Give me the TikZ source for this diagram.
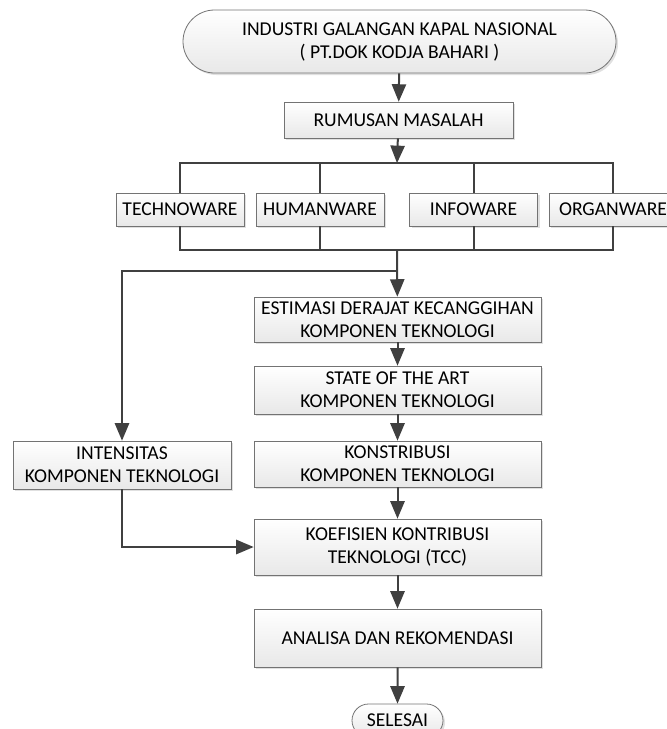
\documentclass[tikz,border=0pt]{standalone}
\usepackage{fontspec}
\setmainfont{Carlito}
\usepackage{tikz}
\usetikzlibrary{arrows,shapes.misc,shadows}
\tikzstyle{process}=[rectangle,draw=black!55,thin,top color=white,bottom color=black!9,
	drop shadow={shadow xshift=1pt,shadow yshift=-1pt,fill=black!12,opacity=1},
	align=center,inner sep=0pt,font=\fontsize{9.8}{11.5}\selectfont]
\tikzstyle{terminal}=[process,rounded rectangle]
\tikzstyle{flow} = [draw,line width=1pt,black!75,-triangle 45]
\tikzstyle{line} = [draw,line width=1pt,black!75]

\begin{document}
\begin{tikzpicture}[x=0.5pt,y=0.5pt]
				\useasboundingbox (0,0) rectangle (667,-729);
				% First we draw the boxes
				\node[terminal,minimum width=216.5pt,minimum height=31.5pt] (industri) at (399.5,-41.5)
					{INDUSTRI GALANGAN KAPAL NASIONAL\\( PT.DOK KODJA BAHARI )};
				\node[process,minimum width=114.5pt,minimum height=18pt] (rumusan) at (398.5,-120) {RUMUSAN MASALAH};

				\foreach \pos/\name/\text in {{(180,-209.5)/techno/TECHNOWARE}, {(320,-209.5)/human/HUMANWARE},
										{(473.5,-209.5)/info/INFOWARE}, {(613,-209.5)/organ/ORGANWARE}}
				\node[process,minimum width=64pt,minimum height=16.5pt] (\name) at \pos {\text};

				\node[process,minimum width=143.5pt,minimum height=22.5pt] (estimasi) at (397.5,-319.5)
					{ESTIMASI DERAJAT KECANGGIHAN\\KOMPONEN TEKNOLOGI};
				\node[process,minimum width=143.5pt,minimum height=24pt] (state) at (397.5,-390)
					{STATE OF THE ART\\KOMPONEN TEKNOLOGI};
				\node[process,minimum width=143.5pt,minimum height=23pt] (konstribusi) at (397.5,-464)
					{KONSTRIBUSI\\KOMPONEN TEKNOLOGI};
				\node[process,minimum width=143.5pt,minimum height=28pt] (koefisien) at (397.5,-547)
					{KOEFISIEN KONTRIBUSI\\TEKNOLOGI (TCC)};
				\node[process,minimum width=143.5pt,minimum height=29pt] (analisa) at (397.5,-638)
					{ANALISA DAN REKOMENDASI};
				\node[process,minimum width=109pt,minimum height=24pt] (intensitas) at (122,-465)
					{INTENSITAS\\KOMPONEN TEKNOLOGI};
				\node[terminal,minimum width=45.5pt,minimum height=16.5pt] (selesai) at (397.5,-720.5) {SELESAI};

				% Junctions of the two buses
				\coordinate (bustop) at (397,-163);
				\coordinate (busbot) at (397,-250);
				\coordinate (split) at (397,-271);

				% Connect the boxes
				\path[flow] (industri) -- (rumusan);
				\path[flow] (rumusan) -- (bustop);
				\path[line] (techno.north) |- (bustop) -| (organ.north);
				\path[line] (techno.south) |- (busbot) -| (organ.south);
				\foreach \name in {human, info}
				{
				\path[line] (\name.north) |- (bustop);
				\path[line] (\name.south) |- (busbot);
				}
				\path[flow] (busbot) -- (estimasi);
				\path[flow] (split) -| (intensitas.north);

				\foreach \source/ \dest in {estimasi/state, state/konstribusi, konstribusi/koefisien,
											koefisien/analisa, analisa/selesai}
				\path[flow] (\source) -- (\dest);

				\path[flow] (intensitas.south) |- (koefisien.west);

			\end{tikzpicture}
\end{document}
